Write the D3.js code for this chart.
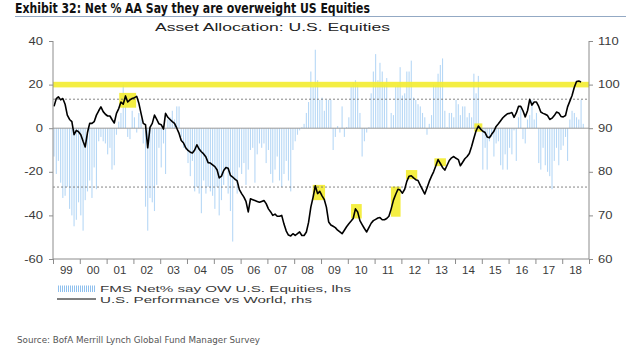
<!DOCTYPE html>
<html><head><meta charset="utf-8">
<script src="https://cdn.jsdelivr.net/npm/d3@7"></script>
<style>body{margin:0;background:#fff;} svg{display:block;}</style>
</head><body>
<svg id="c" width="640" height="356"></svg>
<script>
// ---------- DATA ----------
const yearLabels = ["99","00","01","02","03","04","05","06","07","08","09","10","11","12","13","14","15","16","17","18"];
const leftTicks = [40, 20, 0, -20, -40, -60];
const rightTicks = [110, 100, 90, 80, 70, 60];

// FMS Net % say OW U.S. Equities (lhs), monthly from Jan 1999
const fmsNet = [
 -13,-21,-15,-25,-32,-31,-27,-37,-40,-45,-42,-34,
 -40,-47,-33,-29,-24,-32,-18,-28,-6,-4,-6,-7,
 -12,-9,-19,-17,-3,3,7,20,10,-4,-5,8,
 5,-2,7,4,-7,-36,-47,-32,-34,-38,-26,-9,
 -18,-7,-21,4,5,8,4,10,10,-4,-9,-10,
 -16,-22,-15,-29,-27,-30,-39,-24,-30,-27,-29,-31,
 -37,-27,-40,-33,-26,-19,-30,-38,-52,-24,-30,-18,
 -21,-16,-26,-19,-10,-9,-25,-12,-7,-9,-7,-16,
 -10,-21,-25,-19,-13,-24,-27,-21,-15,-24,-29,-10,
 -6,-3,-1,0.5,2,7,12,26,19,36,22,13,
 14,8,13,13,13,-10,-4,1,-2,10,-4,0.5,
 5,19,21,22,20,7,-13,-6,-2,0.5,16,26,
 34,22,30,26,20,23,0,7,6,19,20,28,
 15,16,26,26,31,14,13,11,10,7,5,-3,
 2,6,20,20,25,29,32,8,0.5,7,7,5,
 13,11,6,10,10,5,7,5,25,16,24,2,
 -19,-9,-19,-6,-4,-13,-7,-6,-17,-19,-12,-19,
 -9,-12,-1,-15,5,9,-5,-7,4,6,13,4,
 7,-16,-19,-9,-17,-20,-22,-28,-15,-9,-17,-10,
 -8,-4,-15,4,8,7,5,4,13,2
];

// U.S. Performance vs World (rhs), monthly from Jan 1999
const usVsWorld = [
 95.0,96.8,97.2,96.5,96.8,95.5,93.0,92.0,91.5,88.5,89.5,89.2,
 88.5,87.0,85.7,89.0,91.1,91.1,91.5,93.0,94.0,94.9,93.8,93.2,
 92.8,92.8,92.0,91.2,93.4,94.5,96.0,95.5,97.4,96.0,96.5,96.8,
 97.0,97.3,95.8,93.4,91.1,90.8,85.5,90.2,91.1,93.0,92.0,91.0,
 90.8,89.8,93.4,92.5,92.0,91.5,91.1,90.0,88.8,87.2,86.6,85.5,
 84.9,84.5,84.3,85.0,86.2,85.2,84.6,84.1,83.4,82.1,82.0,81.6,
 81.2,80.4,78.6,79.0,80.3,81.0,80.8,79.2,78.8,78.3,77.9,75.9,
 75.0,74.2,73.2,70.8,73.8,73.6,73.4,73.2,73.0,73.2,73.4,72.7,
 71.5,70.8,70.0,70.3,69.8,69.8,70.0,68.0,66.4,65.5,65.3,65.8,
 65.4,65.8,66.2,65.4,65.4,66.2,68.4,71.9,74.2,76.8,75.0,75.5,
 74.5,73.6,71.9,68.5,67.8,67.5,67.2,66.6,66.2,65.8,66.6,67.4,
 68.1,68.7,69.3,71.5,70.8,68.8,67.9,67.0,66.2,67.2,68.2,68.8,
 69.1,69.4,69.5,69.0,69.0,69.3,69.8,71.5,73.5,74.8,76.0,75.8,
 75.1,76.0,77.8,79.0,79.1,78.6,78.2,78.0,76.9,75.9,74.9,76.3,
 77.8,79.0,80.0,81.4,82.8,81.9,81.0,80.4,81.5,82.6,83.2,83.5,
 83.1,82.8,81.4,82.2,83.0,83.5,84.2,85.8,87.7,89.4,90.5,89.8,
 89.3,89.0,88.0,87.8,88.6,89.3,90.4,91.0,91.7,92.4,92.9,93.3,
 93.4,93.6,92.5,93.5,95.0,95.0,94.0,92.6,94.0,96.6,95.3,96.0,
 96.0,95.0,93.7,93.4,93.2,92.9,92.0,92.3,92.9,93.7,93.5,92.7,
 92.6,92.9,94.9,96.2,97.5,99.4,100.7,100.8,100.6
];

// highlighted peaks: [start (decimal year), end, rhs low, rhs high]
const highlightBoxes = [
 [2001.47, 2002.10, 94.7, 98.1],
 [2008.69, 2009.15, 73.5, 77.0],
 [2010.12, 2010.52, 69.3, 72.6],
 [2011.61, 2011.97, 69.7, 76.6],
 [2012.17, 2012.59, 78.3, 80.4],
 [2013.23, 2013.66, 81.3, 83.1],
 [2014.72, 2015.02, 89.2, 91.1]
];
const bandLevel = 20;             // lhs, yellow band
const dashedLevels = [13.3, -27]; // lhs, dashed reference lines

const titleText = "Exhibit 32: Net % AA Say they are overweight US Equities";
const subtitleText = "Asset Allocation: U.S. Equities";
const legendLabels = ["FMS Net% say OW U.S. Equities, lhs", "U.S. Performance vs World, rhs"];
const sourceText = "Source:  BofA Merrill Lynch Global Fund Manager Survey";

// ---------- CHART ----------
const svg = d3.select("#c");
const X0 = 53, X1 = 589, YT = 41, YB = 259;
const x = d3.scaleTime().domain([new Date(1999,0,1), new Date(2019,0,1)]).range([X0, X1]);
const yL = d3.scaleLinear().domain([-60, 40]).range([YB, YT]);
const yR = d3.scaleLinear().domain([60, 110]).range([YB, YT]);
const monthDate = i => new Date(1999, i, 15);
const decDate = d => { const yr = Math.floor(d), f = d - yr; const s = new Date(yr,0,1), e = new Date(yr+1,0,1); return new Date(+s + f*(e - s)); };

const AX = "#8c8c8c", TXT = "#3a3a3a";
const stext = (g, px, py, str, size, sx, anchor, fill, family) =>
  g.append("text").attr("transform", `translate(${px},${py}) scale(${sx},1)`)
   .attr("text-anchor", anchor || "start").attr("font-size", size)
   .attr("font-family", family || "'Liberation Sans', Arial, sans-serif")
   .attr("fill", fill || TXT).text(str);

// title
svg.append("text").attr("x", 15).attr("y", 13).attr("font-family", "'Liberation Sans Narrow','DejaVu Sans Condensed',sans-serif")
  .attr("font-weight", "bold").attr("font-size", 14.5).attr("fill", "#111")
  .attr("textLength", 355).attr("lengthAdjust", "spacingAndGlyphs").text(titleText);
svg.append("line").attr("x1", 15).attr("x2", 626).attr("y1", 16.5).attr("y2", 16.5)
  .attr("stroke", "#93a9c4").attr("stroke-width", 1);
svg.append("text").attr("x", 155).attr("y", 30.5).attr("font-family", "'Liberation Sans', Arial, sans-serif")
  .attr("font-size", 11.5).attr("fill", "#222")
  .attr("textLength", 235).attr("lengthAdjust", "spacingAndGlyphs").text(subtitleText);

// bars
svg.append("g").selectAll("rect").data(fmsNet).join("rect")
  .attr("x", (d,i) => x(monthDate(i)) - 0.55).attr("width", 1.1)
  .attr("y", d => yL(Math.max(d, 0))).attr("height", d => Math.abs(yL(d) - yL(0)))
  .attr("fill", "#b7d8f6");

// yellow band
svg.append("rect").attr("x", X0).attr("width", X1 - X0)
  .attr("y", yL(bandLevel) - 2.8).attr("height", 5.6).attr("fill", "#f3ec2f").attr("opacity", 0.9);

// highlight boxes
svg.append("g").selectAll("rect").data(highlightBoxes).join("rect")
  .attr("x", d => x(decDate(d[0]))).attr("width", d => x(decDate(d[1])) - x(decDate(d[0])))
  .attr("y", d => yR(d[3])).attr("height", d => yR(d[2]) - yR(d[3]))
  .attr("fill", "#f3ec2f").attr("opacity", 0.9);

// zero & dashed
svg.append("line").attr("x1", X0).attr("x2", X1).attr("y1", yL(0)).attr("y2", yL(0)).attr("stroke", "#9a9a9a").attr("stroke-width", 1);
svg.append("g").selectAll("line").data(dashedLevels).join("line")
  .attr("x1", X0).attr("x2", X1).attr("y1", d => yL(d)).attr("y2", d => yL(d))
  .attr("stroke", "#666").attr("stroke-width", 0.8).attr("stroke-dasharray", "2,2");

// line
svg.append("path").datum(usVsWorld)
  .attr("d", d3.line().x((d,i) => x(monthDate(i))).y(d => yR(d)))
  .attr("fill", "none").attr("stroke", "#000").attr("stroke-width", 1.6).attr("stroke-linejoin", "round");

// axes
const gL = svg.append("g").attr("transform", `translate(${X0},0)`)
  .call(d3.axisLeft(yL).tickValues(leftTicks).tickSize(4).tickFormat(""));
const gR = svg.append("g").attr("transform", `translate(${X1},0)`)
  .call(d3.axisRight(yR).tickValues(rightTicks).tickSize(4).tickFormat(""));
const yearStarts = yearLabels.map((s,i) => new Date(1999 + i, 0, 1)).concat([new Date(2019,0,1)]);
const gB = svg.append("g").attr("transform", `translate(0,${YB})`)
  .call(d3.axisBottom(x).tickValues(yearStarts).tickSize(5).tickFormat(""));
[gL, gR, gB].forEach(g => { g.selectAll("path,line").attr("stroke", AX); g.select(".domain").attr("d", null); });
svg.append("line").attr("x1", X0).attr("x2", X0).attr("y1", YT).attr("y2", YB).attr("stroke", AX);
svg.append("line").attr("x1", X1).attr("x2", X1).attr("y1", YT).attr("y2", YB).attr("stroke", AX);
svg.append("line").attr("x1", X0).attr("x2", X1).attr("y1", YB).attr("y2", YB).attr("stroke", AX);

const labs = svg.append("g");
leftTicks.forEach(v => stext(labs, 43, yL(v) + 3.6, String(v), 10, 1.3, "end"));
rightTicks.forEach(v => stext(labs, 598, yR(v) + 3.6, String(v), 10, 1.3, "start"));
yearLabels.forEach((s,i) => stext(labs, x(new Date(1999 + i, 6, 2)), 274, s, 10, 1.15, "middle"));

// legend
const defs = svg.append("defs");
const pat = defs.append("pattern").attr("id", "hatch").attr("patternUnits", "userSpaceOnUse").attr("width", 2).attr("height", 8);
pat.append("rect").attr("width", 1).attr("height", 8).attr("fill", "#8fc0ee");
svg.append("rect").attr("x", 57).attr("y", 285.5).attr("width", 39).attr("height", 6.5).attr("fill", "url(#hatch)");
svg.append("line").attr("x1", 57).attr("x2", 96).attr("y1", 299).attr("y2", 299).attr("stroke", "#000").attr("stroke-width", 1);
svg.append("text").attr("x", 100).attr("y", 291.5).attr("font-family", "'Liberation Sans', Arial, sans-serif").attr("font-size", 9.3)
  .attr("fill", TXT).attr("textLength", 251).attr("lengthAdjust", "spacingAndGlyphs").text(legendLabels[0]);
svg.append("text").attr("x", 100).attr("y", 302.5).attr("font-family", "'Liberation Sans', Arial, sans-serif").attr("font-size", 9.3)
  .attr("fill", TXT).attr("textLength", 212).attr("lengthAdjust", "spacingAndGlyphs").text(legendLabels[1]);

// source
svg.append("text").attr("x", 17).attr("y", 343).attr("font-family", "'Liberation Sans Narrow','DejaVu Sans Condensed',sans-serif")
  .attr("font-size", 9.5).attr("fill", "#555").attr("textLength", 243).attr("lengthAdjust", "spacingAndGlyphs").text(sourceText);
</script>
</body></html>
